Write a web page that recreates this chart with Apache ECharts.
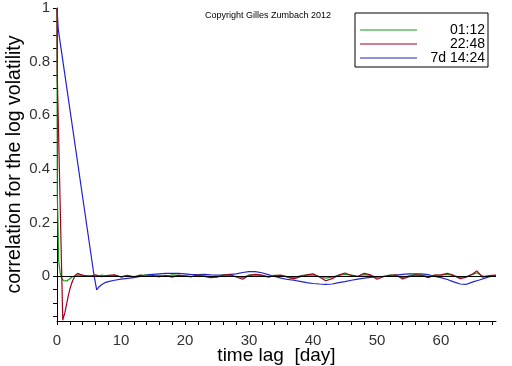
<!DOCTYPE html>
<html>
<head>
<meta charset="utf-8">
<script src="https://cdn.jsdelivr.net/npm/echarts@6/dist/echarts.min.js"></script>
<style>html,body{margin:0;padding:0;background:#fff}#c{width:512px;height:366px}</style>
</head>
<body>
<div id="c"></div>
<script>
// ---- data (lag in days, correlation) ----
var seriesNames = ['01:12', '22:48', '7d 14:24'];
var greenLag = [0,0.02,0.05,0.15,0.25,0.5,0.7,1.0,1.3,1.6,2.0,2.4,2.8,3.2,4,5,6,7,8,9,10,11,12,13,14,15,16,17,18,19,20,21,22,23,24,25,26,27,28,29,30,31,32,33,34,35,36,37,38,39,40,41,42,43,44,45,46,47,48,49,50,51,52,53,54,55,56,57,58,59,60,61,62,63,64,65,65.6,66.5,67.5,68.6];
var greenVal = [1,0.65,0.3,0.2,0.06,0.01,-0.005,-0.017,-0.02,-0.018,-0.01,-0.003,0.001,0.004,0.002,0.001,-0.002,0.003,-0.001,0.002,-0.003,0.001,-0.002,0.002,0.003,-0.001,0.002,-0.002,0.004,0.002,0.001,-0.002,0.003,0.001,-0.004,-0.002,0.004,0.002,-0.002,-0.006,0.003,0.004,0.001,-0.002,0.002,0.001,-0.002,-0.006,0.001,0.003,0.004,-0.002,-0.008,-0.004,0.002,0.006,0.003,-0.001,0.005,0.002,-0.005,-0.001,0.003,0.002,-0.006,0.001,0.005,0.003,-0.002,0.002,0.003,0.006,0.001,-0.005,-0.002,0.006,0.012,0.0,-0.002,0.002];
var redLag = [0,0.04,0.9,1.0,1.25,1.5,1.75,2.0,2.25,2.5,2.8,3.2,3.6,4,5,6,7,8,9,10,11,12,13,14,15,16,17,18,19,20,21,22,23,24,25,26,27,28,29,30,31,32,33,34,35,36,37,38,39,40,41,42,43,44,45,46,47,48,49,50,51,52,53,54,55,56,57,58,59,60,61,62,63,64,65,65.6,66.5,67.5,68.6];
var redVal = [1,0.75,-0.165,-0.165,-0.135,-0.105,-0.075,-0.05,-0.03,-0.015,0.0,0.01,0.006,0.003,-0.002,0.004,-0.003,0.002,0.004,-0.004,0.002,-0.005,0.003,-0.002,0.001,-0.003,0.002,-0.004,0.003,0.0,-0.003,0.004,-0.002,-0.006,-0.004,0.003,0.005,-0.004,-0.012,0.002,0.006,0.003,-0.004,0.001,0.003,-0.004,-0.011,-0.003,0.004,0.008,-0.004,-0.018,-0.01,0.003,0.011,0.002,-0.002,0.01,0.004,-0.012,-0.003,0.002,0.004,-0.011,-0.003,0.004,0.002,-0.006,0.003,0.004,0.01,0.002,-0.01,-0.004,0.008,0.019,-0.004,0.001,0.003];
var blueLag = [0,0.2,5.8,6.2,6.6,7,7.5,8,9,10,11,12,13,14,15,16,17,18,19,20,21,22,23,24,25,26,27,28,29,30,31,32,33,34,35,36,37,38,39,40,41,42,43,44,45,46,47,48,49,50,51,52,53,54,55,56,57,58,59,60,61,62,63,64,65,66,67,68,68.6];
var blueVal = [1,0.92,0,-0.052,-0.04,-0.032,-0.025,-0.021,-0.016,-0.012,-0.009,-0.006,-0.002,0.004,0.006,0.008,0.01,0.01,0.01,0.008,0.005,0.005,0.006,0.004,0.003,0.004,0.006,0.008,0.013,0.016,0.016,0.012,0.005,-0.002,-0.008,-0.013,-0.016,-0.02,-0.025,-0.028,-0.03,-0.031,-0.03,-0.025,-0.021,-0.016,-0.012,-0.008,-0.005,-0.003,-0.002,0.0,0.003,0.006,0.008,0.008,0.008,0.005,-0.002,-0.006,-0.013,-0.022,-0.03,-0.031,-0.022,-0.015,-0.007,0.0,0.0];
var xTicks = [0,2,4,6,8,10,12,14,16,18,20,22,24,26,28,30,32,34,36,38,40,42,44,46,48,50,52,54,56,58,60,62,64,66,68];
var xLabels = [0,10,20,30,40,50,60];
var yTicks = [-0.15,-0.1,-0.05,0,0.05,0.1,0.15,0.2,0.25,0.3,0.35,0.4,0.45,0.5,0.55,0.6,0.65,0.7,0.75,0.8,0.85,0.9,0.95,1];
var yLabels = [0,0.2,0.4,0.6,0.8,1];

function pairs(xs, ys){ return xs.map(function(x,i){ return [x, ys[i]]; }); }

var chart = echarts.init(document.getElementById('c'), null, {renderer:'canvas'});
var font = 'Liberation Sans, Arial, sans-serif';
chart.setOption({
  animation: false,
  title: {
    text: 'Copyright Gilles Zumbach 2012',
    left: 205, top: 11, padding: 0,
    textStyle: {fontSize: 9, fontWeight: 'normal', color: '#000', fontFamily: font}
  },
  legend: {
    orient: 'vertical', left: 355, top: 13, icon: 'rect',
    padding: [10, 3, 2, 5], itemGap: 0, itemWidth: 57, itemHeight: 1,
    borderColor: '#000', borderWidth: 1, backgroundColor: '#fff',
    data: seriesNames,
    formatter: function(n){ return '{t|' + n + '}'; },
    textStyle: {
      color: '#000', fontFamily: font, fontSize: 14,
      rich: {t: {width: 63, align: 'right', fontSize: 14, lineHeight: 15, color: '#000', fontFamily: font}}
    }
  },
  grid: {left: 57, right: 16, top: 8, bottom: 45, containLabel: false, outerBoundsMode: 'none'},
  xAxis: {
    type: 'value', min: 0, max: 68.6,
    name: 'time lag  [day]', nameLocation: 'middle', nameGap: 25, nameMoveOverlap: false,
    nameTextStyle: {fontSize: 19, color: '#000', fontFamily: font},
    axisLine: {show: true, onZero: false, lineStyle: {color: '#000', width: 1}},
    axisTick: {show: true, length: 4, customValues: xTicks, lineStyle: {color: '#000'}},
    axisLabel: {customValues: xLabels, margin: 12, fontSize: 15, color: '#333', fontFamily: font},
    splitLine: {show: false}
  },
  yAxis: {
    type: 'value', min: -0.168, max: 1,
    name: 'correlation for the log volatility', nameLocation: 'middle', nameGap: 32, nameMoveOverlap: false,
    nameTextStyle: {fontSize: 19.5, color: '#000', fontFamily: font},
    axisLine: {show: true, onZero: false, lineStyle: {color: '#000', width: 1}},
    axisTick: {show: true, length: 4, customValues: yTicks, lineStyle: {color: '#000'}},
    axisLabel: {customValues: yLabels, margin: 7, fontSize: 15, color: '#333', fontFamily: font},
    splitLine: {show: false}
  },
  series: [
    {name: seriesNames[2], type: 'line', data: pairs(blueLag, blueVal), symbol: 'none',
     lineStyle: {color: '#2222cc', width: 1.2}, itemStyle: {color: '#2222cc'}, z: 2,
     markLine: {silent: true, symbol: 'none', label: {show: false}, z: 5,
       lineStyle: {color: '#000', width: 1, type: 'solid'}, data: [{yAxis: 0}]}},
    {name: seriesNames[0], type: 'line', data: pairs(greenLag, greenVal), symbol: 'none',
     lineStyle: {color: '#119a11', width: 1.2}, itemStyle: {color: '#119a11'}, z: 3},
    {name: seriesNames[1], type: 'line', data: pairs(redLag, redVal), symbol: 'none',
     lineStyle: {color: '#a00020', width: 1.2}, itemStyle: {color: '#a00020'}, z: 4}
  ]
});
</script>
</body>
</html>
